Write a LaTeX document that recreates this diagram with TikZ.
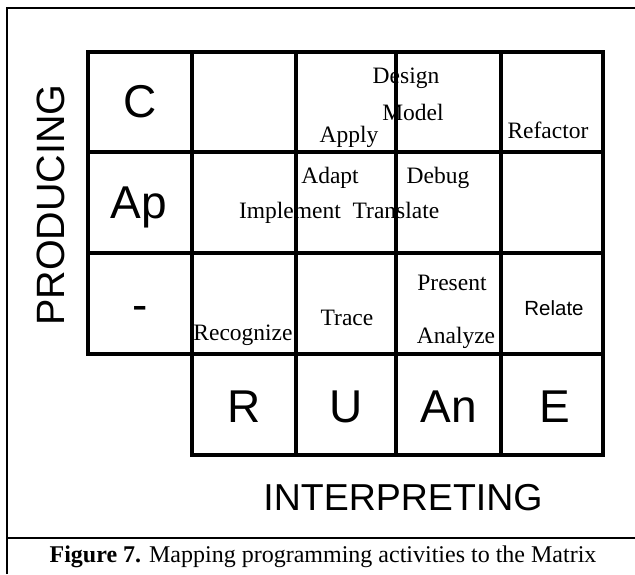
\documentclass[tikz,border=0pt]{standalone}
\usepackage{fontspec}
\setmainfont{Liberation Serif}
\newfontfamily\arialfont{Liberation Sans}
\usetikzlibrary{positioning}

\begin{document}
\begin{tikzpicture}[x=1pt, y=-1pt,
        gridline/.style={line width=3.4pt, line cap=rect},
        frameline/.style={line width=1.8pt},
        level/.style={font=\arialfont\fontsize{46}{50}\selectfont, inner sep=0pt, anchor=base},
        activity/.style={font=\fontsize{23.5}{26}\selectfont, inner sep=0pt, anchor=base},
        axislabel/.style={font=\arialfont\fontsize{39.5}{42}\selectfont, inner sep=0pt}]
        \useasboundingbox (0,0) rectangle (635,574);

        % frame and caption rule
        \draw[frameline] (7,574) -- (7,8) -- (635,8);
        \draw[frameline] (7,538) -- (635,538);

        % the matrix
        \foreach \y in {52,152,253,354}
            \draw[gridline] (88,\y) -- (603,\y);
        \draw[gridline] (192,455) -- (603,455);
        \draw[gridline] (88,52) -- (88,354);
        \foreach \x in {192,296,396,501,603}
            \draw[gridline] (\x,52) -- (\x,455);

        % producing levels
        \node[level] (C) at (140,117) {C};
        \node[level] (Ap) at (139,218) {Ap};
        \node[level] (none) at (140,320) {-};

        % interpreting levels
        \node[level] (R) at (244,422) {R};
        \node[level] (U) at (346,422) {U};
        \node[level] (An) at (449,422) {An};
        \node[level] (E) at (555,422) {E};

        % activities
        \node[activity] (design) at (406,83) {Design};
        \node[activity] (model) at (413,120) {Model};
        \node[activity] (apply) at (349,142) {Apply};
        \node[activity] (refactor) at (548,138) {Refactor};
        \node[activity] (adapt) at (330,183) {Adapt};
        \node[activity] (debug) at (438,183) {Debug};
        \node[activity] (implement) at (290,218) {Implement};
        \node[activity] (translate) at (396,218) {Translate};
        \node[activity] (present) at (452,290) {Present};
        \node[activity, font=\arialfont\fontsize{20.5}{24}\selectfont] (relate) at (554,315) {Relate};
        \node[activity] (trace) at (347,325) {Trace};
        \node[activity] (recognize) at (243,340) {Recognize};
        \node[activity] (analyze) at (456,343) {Analyze};

        % axis names
        \node[axislabel, rotate=90] (producing) at (51,205) {PRODUCING};
        \node[axislabel, anchor=base, font=\arialfont\fontsize{37.5}{40}\selectfont] (interpreting) at (403,510) {INTERPRETING};

        % caption
        \node[activity, font=\fontsize{24}{26}\selectfont] (caption) at (323,562) {\textbf{Figure 7.} Mapping programming activities to the Matrix};
\end{tikzpicture}
\end{document}
